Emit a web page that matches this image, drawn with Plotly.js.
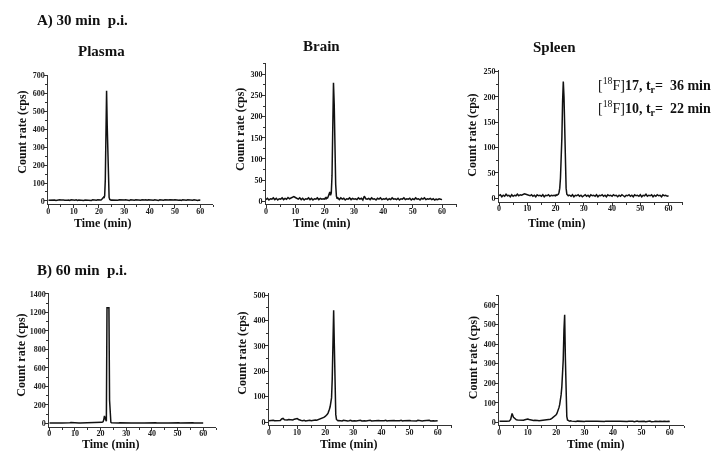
<!DOCTYPE html>
<html>
<head>
<meta charset="utf-8">
<script src="https://cdn.plot.ly/plotly-3.0.1.min.js"></script>
<style>html,body{margin:0;padding:0;background:#fff;}#chart{width:719px;height:460px;}#chart svg{will-change:transform;}</style>
</head>
<body>
<div id="chart"></div>
<script>
// Shared time axis (min)
var timeA = [0,0.5,1,1.5,2,2.5,3,3.5,4,4.5, 5,5.5,6,6.5,7,7.5,8,8.5,9,9.5,
             10,10.5,11,11.5,12,12.5,13,13.5,14,14.5, 15,15.5,16,16.5,17,17.5,18,18.5,19,19.5];
var timeB = [20,20.25,20.5,20.75,21,21.25,21.5,21.75,22,22.25,22.5,22.75,23,23.25,23.5,23.75,24,24.25,24.5,24.75];
var timeC = [25,25.5,26,26.5,27,27.5,28,28.5,29,29.5, 30,30.5,31,31.5,32,32.5,33,33.5,34,34.5,
             35,35.5,36,36.5,37,37.5,38,38.5,39,39.5, 40,40.5,41,41.5,42,42.5,43,43.5,44,44.5,
             45,45.5,46,46.5,47,47.5,48,48.5,49,49.5, 50,50.5,51,51.5,52,52.5,53,53.5,54,54.5,
             55,55.5,56,56.5,57,57.5,58,58.5,59,59.5, 60];
var time = timeA.concat(timeB, timeC);

// A) 30 min p.i. — Plasma
var plasma30 = [4,5,3,6,4,5,3,5,4,6, 5,3,5,4,6,4,5,3,6,4, 5,4,6,3,5,4,6,5,3,5, 4,6,4,5,3,6,4,5,4,6,
  5,4,6,5,7,10,14,20,16,30,120,450,615,420,200,70,20,8,5,4,
  5,4,6,3,5,4,6,5,4,3, 5,6,4,5,3,6,4,5,4,6, 5,3,5,4,6,4,5,7,4,6, 5,3,5,4,6,4,5,3,6,4,
  5,4,6,5,3,5,7,6,4,5, 7,5,6,4,5,3,6,4,5,4, 6,5,3,5,4,6,4,5,3,5, 4];
// A) Brain
var brain30 = [4,7,3,6,5,8,4,7,3,6, 5,8,4,7,5,9,6,8,10,11, 9,7,5,8,4,7,3,6,5,8, 4,7,3,6,5,8,4,7,5,6,
  5,8,6,9,8,12,16,22,14,20,60,200,280,230,110,40,12,6,8,5,
  4,8,5,7,3,6,5,8,4,7, 5,6,4,8,5,7,3,12,6,5, 7,4,8,5,6,3,7,5,8,4, 6,5,7,3,6,4,8,5,6,4,
  7,3,6,5,8,4,6,5,7,3, 6,4,8,5,6,3,7,5,8,4, 6,5,7,4,6,3,5,4,6,5, 4];
// A) Spleen
var spleen30 = [5,7,3,6,4,8,5,6,3,7, 4,6,5,8,5,7,6,8,9,8, 7,6,5,7,4,6,3,7,5,6, 4,7,3,6,5,7,4,6,5,6,
  5,7,6,7,8,12,20,40,70,120,190,230,200,130,60,20,8,7,5,6,
  6,4,7,3,6,5,7,4,6,3, 5,7,4,6,3,7,5,6,4,7, 3,6,5,7,4,6,3,7,5,6, 4,7,5,6,3,6,4,7,5,3,
  6,5,7,4,6,3,7,5,6,4, 7,3,6,5,8,4,6,5,7,3, 6,4,7,5,6,3,7,5,6,4, 5];
// B) 60 min p.i. — Plasma
var plasma60 = [3,4,3,5,4,3,4,5,3,4, 4,3,5,4,3,4,5,8,6,4, 3,4,5,3,4,4,5,3,4,5, 4,3,5,4,3,4,5,4,6,8,
  8,9,10,12,18,40,80,55,25,22,1250,1252,1252,1250,250,40,12,6,5,4,
  4,3,5,4,3,5,4,3,4,5, 3,4,5,3,4,4,5,3,4,5, 4,3,5,4,3,4,5,3,4,4, 5,3,4,5,4,3,4,5,3,4,
  5,4,3,4,5,3,4,4,5,3, 4,5,3,4,4,5,3,4,5,4, 3,4,5,4,3,4,5,3,4,4, 3];
// B) Brain
var brain60 = [5,6,4,7,5,6,4,7,6,12, 14,9,7,8,10,9,10,8,11,13, 14,10,7,6,5,7,4,6,5,7, 5,7,6,8,7,9,10,12,14,18,
  22,24,27,30,35,40,50,60,72,95,170,340,440,300,110,30,10,6,5,6,
  5,6,4,7,5,6,4,5,7,4, 6,5,4,6,5,7,4,6,5,4, 6,5,7,4,5,6,4,5,6,5, 4,6,5,7,4,5,6,4,5,6,
  5,4,6,5,7,4,5,6,4,5, 6,5,4,6,5,4,7,5,6,4, 5,6,4,5,7,4,6,5,4,6, 5];
// B) Spleen
var spleen60 = [5,6,4,5,6,5,7,6,15,45, 25,16,13,12,11,12,10,11,13,16, 17,14,11,10,9,10,8,9,8,9, 8,9,10,11,12,14,16,20,25,32,
  38,44,52,62,75,90,110,140,180,230,320,470,550,330,110,30,12,8,7,6,
  8,6,5,7,4,6,5,7,6,5, 4,6,5,7,4,5,6,4,5,6, 5,4,6,5,4,6,5,4,5,6, 4,5,6,4,5,6,5,7,6,5,
  4,5,6,4,5,3,5,6,4,5, 6,4,5,3,5,4,6,3,5,4, 5,3,4,5,3,4,5,3,4,5, 4];

var panelTitles = ["Plasma", "Brain", "Spleen"];
var rowTitles = ["A) 30 min&nbsp; p.i.", "B) 60 min&nbsp; p.i."];
var xTitle = "Time (min)";
var yTitle = "Count rate (cps)";

var series = [plasma30, brain30, spleen30, plasma60, brain60, spleen60];
var yRanges = [[-17, 705], [-6.4, 326], [-6.7, 252.6], [-37, 1410], [-13, 507], [-13.8, 651]];
var yDticks = [100, 50, 50, 200, 100, 100];

var W = 719, H = 460;
// panel pixel boxes [left, right, top, bottom]
var boxes = [
  [48.3, 213, 74.5, 204],
  [266, 456.7, 63.3, 204],
  [499, 682.7, 70, 201.7],
  [49.3, 216, 293, 426.7],
  [269, 451.7, 293.3, 425.3],
  [499.3, 684, 295, 425]
];
var yTitlePos = [[21.7, 132], [240, 130], [471.7, 135], [20.7, 355], [241.7, 353], [472.7, 357.5]];
var xTitlePos = [[102, 222.5], [321, 222.5], [556, 222.5], [110.8, 444], [348.3, 444], [595, 444]];
var panelTitlePos = [[101.7, 50.7], [321.7, 45.7], [554, 46.7]];

var serif = "Liberation Serif, Times New Roman, serif";
var traces = [];
var layout = {
  width: W, height: H,
  margin: {l: 0, r: 0, t: 0, b: 0},
  paper_bgcolor: "#ffffff", plot_bgcolor: "#ffffff",
  showlegend: false,
  annotations: []
};

function px(x) { return x / W; }
function py(y) { return 1 - y / H; }

for (var i = 0; i < 6; i++) {
  var n = i + 1;
  var xa = "x" + (n === 1 ? "" : n), ya = "y" + (n === 1 ? "" : n);
  traces.push({
    x: time, y: series[i], type: "scatter", mode: "lines",
    xaxis: xa, yaxis: ya,
    line: {color: "#111111", width: 1.5},
    hoverinfo: "skip"
  });
  var b = boxes[i];
  var axCommon = {
    showline: true, linecolor: "#333333", linewidth: 1,
    ticks: "outside", ticklen: 3, tickwidth: 1, tickcolor: "#333333",
    showgrid: false, zeroline: false,
    tickfont: {family: serif, size: 8, color: "#1a1a1a", weight: 700}
  };
  layout["xaxis" + (n === 1 ? "" : n)] = Object.assign({}, axCommon, {
    domain: [px(b[0]), px(b[1])], anchor: ya,
    range: [0, 65], tick0: 0, dtick: 10, ticklabelstandoff: -4,
    minor: {ticks: "outside", ticklen: 2, dtick: 5, tick0: 0, tickcolor: "#333333"}
  });
  layout["yaxis" + (n === 1 ? "" : n)] = Object.assign({}, axCommon, {
    domain: [py(b[3]), py(b[2])], anchor: xa,
    range: yRanges[i], tick0: 0, dtick: yDticks[i], ticklabelstandoff: -2,
    minor: {ticks: "outside", ticklen: 2, dtick: yDticks[i] / 2, tick0: 0, tickcolor: "#333333"}
  });
  layout.annotations.push({
    xref: "paper", yref: "paper", x: px(yTitlePos[i][0]), y: py(yTitlePos[i][1]),
    text: yTitle, textangle: -90, showarrow: false, xanchor: "center", yanchor: "middle",
    font: {family: serif, size: 12, color: "#111111", weight: 700}
  });
  layout.annotations.push({
    xref: "paper", yref: "paper", x: px(xTitlePos[i][0]), y: py(xTitlePos[i][1]),
    text: xTitle, showarrow: false, xanchor: "center", yanchor: "middle",
    font: {family: serif, size: 12, color: "#111111", weight: 700}
  });
}
for (var k = 0; k < 3; k++) {
  layout.annotations.push({
    xref: "paper", yref: "paper", x: px(panelTitlePos[k][0]), y: py(panelTitlePos[k][1]),
    text: panelTitles[k], showarrow: false, xanchor: "center", yanchor: "middle",
    font: {family: serif, size: 15, color: "#111111", weight: 700}
  });
}
var rowTitlePos = [[35, 20.7], [35, 270.5]];
for (var r = 0; r < 2; r++) {
  layout.annotations.push({
    xref: "paper", yref: "paper", x: px(rowTitlePos[r][0]), y: py(rowTitlePos[r][1]),
    text: rowTitles[r], showarrow: false, xanchor: "left", yanchor: "middle",
    font: {family: serif, size: 15, color: "#111111", weight: 700}
  });
}
var compoundLabels = ["[<sup>18</sup>F]<b>17, t<sub>r</sub>=&nbsp; 36 min</b>",
                      "[<sup>18</sup>F]<b>10, t<sub>r</sub>=&nbsp; 22 min</b>"];
var compoundPos = [[654, 85], [654, 107.7]];
for (var c = 0; c < 2; c++) {
  layout.annotations.push({
    xref: "paper", yref: "paper", x: px(compoundPos[c][0]), y: py(compoundPos[c][1]),
    text: compoundLabels[c], showarrow: false, xanchor: "center", yanchor: "middle",
    font: {family: serif, size: 14, color: "#111111"}
  });
}

Plotly.newPlot("chart", traces, layout, {displayModeBar: false, staticPlot: true});
</script>
</body>
</html>
